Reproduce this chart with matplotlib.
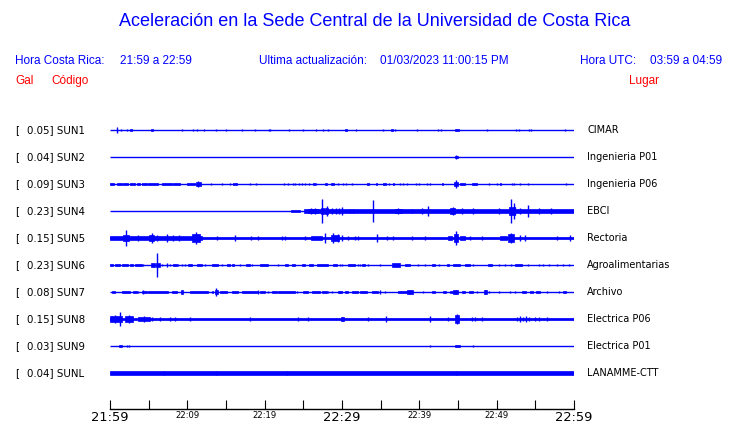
#  Aceleración en la Sede Central de la UCR - trazas de los acelerógrafos
#  Ventana de 60 minutos (21:59 a 22:59 hora de Costa Rica)

import matplotlib
matplotlib.use("Agg")
import matplotlib.pyplot as plt

# ---------------- datos ----------------
codigos = ["SUN1", "SUN2", "SUN3", "SUN4", "SUN5", "SUN6", "SUN7", "SUN8", "SUN9", "SUNL"]
escalas = ["0.05", "0.04", "0.09", "0.23", "0.15", "0.23", "0.08", "0.15", "0.03", "0.04"]
lugares = ["CIMAR", "Ingenieria P01", "Ingenieria P06", "EBCI", "Rectoria",
           "Agroalimentarias", "Archivo", "Electrica P06", "Electrica P01", "LANAMME-CTT"]

# minutos desde 21:59 y etiquetas del eje
minutos_ticks = [0, 5, 10, 15, 20, 25, 30, 35, 40, 45, 50, 55, 60]
etiquetas_ticks = ["21:59", "", "22:09", "", "22:19", "", "22:29", "", "22:39", "", "22:49", "", "22:59"]

# bloques: (inicio min, fin min, semiamplitud normalizada)
# picos:   (min, semiamplitud normalizada)
bloques_sun1 = [(2.55, 2.9, 0.045), (5.25, 5.55, 0.045), (30.4, 30.7, 0.05), (36.3, 36.6, 0.045),
                (44.6, 45.1, 0.045)]
picos_sun1 = [(0.95, 0.105), (1.38, 0.04), (2.24, 0.05), (9.27, 0.04), (10.78, 0.05), (11.2, 0.04),
              (12.2, 0.04), (13.67, 0.05), (14.96, 0.05), (17.1, 0.04), (18.8, 0.05), (20.5, 0.05),
              (20.7, 0.04), (23.2, 0.05), (24.9, 0.04), (26.6, 0.04), (27.5, 0.05), (28.2, 0.04),
              (31.78, 0.04), (35.36, 0.04), (36.87, 0.05), (39.67, 0.05), (42.39, 0.05), (42.78, 0.05),
              (48.73, 0.05), (52.48, 0.05), (52.91, 0.04), (54.12, 0.05), (54.46, 0.04), (58.86, 0.05)]

bloques_sun2 = [(44.6, 45.05, 0.04)]
picos_sun2 = [(44.8, 0.075)]

bloques_sun3 = [(0.0, 0.52, 0.045), (0.86, 1.51, 0.045), (1.72, 2.37, 0.045), (2.59, 3.23, 0.045),
                (3.45, 3.88, 0.045), (4.1, 4.74, 0.045), (4.96, 6.25, 0.045), (6.68, 7.98, 0.045),
                (8.19, 9.05, 0.045), (9.92, 10.99, 0.045), (11.08, 11.73, 0.06), (15.95, 16.38, 0.045),
                (26.2, 26.5, 0.045), (27.8, 28.0, 0.045), (28.6, 29.0, 0.045), (33.2, 33.55, 0.045),
                (34.41, 34.58, 0.045), (35.27, 35.71, 0.045), (36.57, 36.74, 0.045), (42.9, 43.12, 0.045),
                (44.42, 45.06, 0.07), (45.28, 45.93, 0.045), (46.79, 47.43, 0.045), (50.37, 50.58, 0.045)]
picos_sun3 = [(11.43, 0.1), (13.07, 0.04), (14.53, 0.04), (15.52, 0.04), (18.1, 0.04), (18.84, 0.05),
              (22.5, 0.05), (23.0, 0.04), (23.6, 0.05), (23.9, 0.04), (24.4, 0.05), (24.8, 0.04),
              (25.2, 0.05), (25.7, 0.04), (26.7, 0.05), (29.5, 0.04), (30.1, 0.05), (30.49, 0.05),
              (31.35, 0.04), (36.14, 0.04), (37.52, 0.04), (37.95, 0.04), (38.38, 0.05), (39.59, 0.04),
              (40.02, 0.04), (41.05, 0.04), (41.4, 0.05), (44.72, 0.15), (49.07, 0.04), (50.02, 0.05),
              (51.96, 0.05), (52.18, 0.04), (53.04, 0.05), (54.03, 0.05), (58.95, 0.04)]

bloques_sun4 = [(23.37, 24.58, 0.055), (25.1, 60.0, 0.06), (25.66, 26.95, 0.09), (27.3, 27.7, 0.12),
                (27.8, 28.2, 0.1), (36.87, 37.73, 0.09), (43.98, 44.63, 0.1), (51.6, 52.4, 0.13)]
picos_sun4 = [(26.0, 0.1), (26.5, 0.1), (27.47, 0.45), (28.03, 0.19), (28.7, 0.11), (29.2, 0.11),
              (29.6, 0.1), (29.97, 0.15), (31.05, 0.09), (31.48, 0.09), (34.07, 0.41), (37.3, 0.11),
              (39.03, 0.09), (40.32, 0.1), (41.18, 0.17), (44.3, 0.13), (45.49, 0.12), (47.0, 0.12),
              (50.24, 0.12), (51.83, 0.46), (52.18, 0.3), (52.39, 0.14), (53.04, 0.1), (53.99, 0.21),
              (55.41, 0.1), (57.0, 0.11)]

bloques_sun5 = [(0.0, 60.0, 0.055), (0.0, 11.9, 0.07), (10.6, 11.6, 0.15), (1.7, 2.5, 0.1),
                (5.1, 5.7, 0.1), (26.0, 27.4, 0.09), (28.6, 29.6, 0.12), (43.77, 44.2, 0.09),
                (44.5, 45.0, 0.14), (45.28, 45.93, 0.085), (50.45, 51.32, 0.09), (51.53, 52.18, 0.13)]
picos_sun5 = [(2.11, 0.29), (3.66, 0.12), (5.39, 0.2), (6.04, 0.1), (7.33, 0.15), (8.19, 0.12),
              (8.93, 0.1), (11.08, 0.21), (13.8, 0.09), (16.17, 0.1), (18.2, 0.08), (19.19, 0.08),
              (22.21, 0.09), (22.64, 0.09), (25.23, 0.08), (27.81, 0.17), (28.89, 0.17), (29.54, 0.15),
              (29.97, 0.1), (30.83, 0.09), (31.69, 0.08), (32.13, 0.08), (34.5, 0.16), (35.79, 0.09),
              (36.65, 0.09), (39.03, 0.08), (40.75, 0.09), (44.76, 0.27), (46.57, 0.09), (48.08, 0.08),
              (51.83, 0.19), (53.04, 0.1), (53.69, 0.12), (57.78, 0.08), (59.5, 0.1)]

bloques_sun6 = [(0.0, 0.43, 0.05), (0.65, 1.29, 0.05), (1.51, 2.37, 0.05), (2.59, 3.02, 0.05),
                (3.23, 4.1, 0.05), (5.3, 5.82, 0.06), (5.91, 6.47, 0.08), (8.19, 8.62, 0.05),
                (10.13, 10.65, 0.05), (11.21, 11.86, 0.05), (13.15, 14.02, 0.05), (15.09, 15.52, 0.05),
                (15.74, 16.08, 0.05), (17.55, 18.11, 0.05), (19.4, 20.48, 0.05), (22.64, 23.07, 0.05),
                (23.5, 23.93, 0.05), (24.8, 25.23, 0.05), (25.74, 26.3, 0.05), (26.73, 28.16, 0.05),
                (28.89, 29.32, 0.05), (30.83, 31.69, 0.05), (32.56, 32.99, 0.05), (36.44, 37.52, 0.06),
                (38.16, 38.81, 0.05), (41.61, 42.04, 0.05), (43.55, 43.9, 0.05), (44.41, 45.28, 0.05),
                (45.93, 46.57, 0.05), (48.94, 49.37, 0.05), (52.39, 53.25, 0.05)]
picos_sun6 = [(4.31, 0.05), (6.12, 0.45), (6.68, 0.05), (7.33, 0.06), (7.76, 0.05), (8.84, 0.05),
              (9.27, 0.05), (9.7, 0.05), (12.29, 0.05), (14.45, 0.05), (16.82, 0.05), (18.33, 0.05),
              (21.78, 0.05), (29.75, 0.05), (30.05, 0.05), (32.13, 0.05), (32.34, 0.05), (33.42, 0.05),
              (34.93, 0.05), (39.89, 0.05), (40.75, 0.05), (42.56, 0.05), (47.0, 0.05), (50.36, 0.05),
              (51.1, 0.05), (51.83, 0.05), (53.99, 0.05), (55.41, 0.04), (55.97, 0.05), (56.83, 0.05),
              (57.78, 0.05), (58.64, 0.04), (59.41, 0.05)]

bloques_sun7 = [(0.22, 0.65, 0.05), (1.51, 2.59, 0.05), (3.02, 3.45, 0.05), (4.1, 4.74, 0.05),
                (4.96, 7.55, 0.05), (7.98, 8.62, 0.05), (9.18, 9.48, 0.06), (10.35, 12.72, 0.05),
                (13.15, 13.37, 0.05), (13.58, 14.02, 0.09), (14.23, 15.09, 0.05), (15.74, 16.6, 0.05),
                (17.03, 18.97, 0.05), (19.4, 20.05, 0.05), (20.91, 21.56, 0.05), (21.78, 23.93, 0.05),
                (25.01, 25.66, 0.05), (26.09, 27.17, 0.05), (27.38, 28.03, 0.05), (29.54, 29.97, 0.05),
                (30.4, 30.83, 0.05), (31.26, 32.13, 0.05), (32.34, 33.2, 0.05), (33.85, 34.71, 0.05),
                (37.3, 38.38, 0.05), (38.38, 39.24, 0.065), (41.61, 42.04, 0.05), (43.12, 43.46, 0.05),
                (43.98, 44.41, 0.05), (44.41, 45.06, 0.065), (45.5, 45.93, 0.05), (46.36, 47.0, 0.05),
                (48.3, 48.73, 0.06), (53.25, 53.77, 0.05), (54.33, 54.76, 0.05), (55.11, 55.62, 0.05),
                (58.64, 58.99, 0.05)]
picos_sun7 = [(3.66, 0.05), (4.31, 0.08), (13.71, 0.16), (19.19, 0.09), (20.48, 0.05), (24.15, 0.05),
              (28.25, 0.05), (28.68, 0.05), (29.75, 0.05), (34.93, 0.07), (35.57, 0.05), (38.8, 0.07),
              (40.53, 0.05), (44.76, 0.09), (47.43, 0.05), (48.51, 0.08), (49.07, 0.05), (50.24, 0.05),
              (51.75, 0.05), (52.39, 0.05), (56.49, 0.05), (58.0, 0.05)]

bloques_sun8 = [(0.0, 60.0, 0.05), (0.0, 1.51, 0.11), (1.94, 3.02, 0.11), (3.66, 5.17, 0.09),
                (29.88, 30.31, 0.08), (44.63, 45.15, 0.13)]
picos_sun8 = [(0.6, 0.13), (1.29, 0.26), (2.46, 0.16), (4.4, 0.1), (5.39, 0.07), (6.47, 0.07),
              (7.76, 0.07), (8.41, 0.07), (10.35, 0.08), (18.11, 0.07), (24.28, 0.07), (25.66, 0.07),
              (30.0, 0.09), (33.42, 0.07), (35.66, 0.1), (41.4, 0.12), (43.77, 0.07), (44.89, 0.17),
              (46.79, 0.08), (47.22, 0.08), (48.08, 0.09), (52.61, 0.09), (53.0, 0.1), (53.4, 0.09),
              (53.8, 0.1), (54.2, 0.09), (54.9, 0.08), (55.41, 0.09), (56.49, 0.07), (59.94, 0.08)]

bloques_sun9 = [(1.16, 1.51, 0.04), (44.63, 45.2, 0.04)]
picos_sun9 = [(2.16, 0.03), (2.5, 0.04), (41.4, 0.05), (47.0, 0.04)]

bloques_sunl = [(0.0, 60.0, 0.058)]
picos_sunl = [(7.03, 0.09), (13.71, 0.09), (22.94, 0.09), (44.76, 0.09)]

bloques = [bloques_sun1, bloques_sun2, bloques_sun3, bloques_sun4, bloques_sun5,
           bloques_sun6, bloques_sun7, bloques_sun8, bloques_sun9, bloques_sunl]
picos = [picos_sun1, picos_sun2, picos_sun3, picos_sun4, picos_sun5,
         picos_sun6, picos_sun7, picos_sun8, picos_sun9, picos_sunl]

# ---------------- figura ----------------
AZUL = "#0000ff"
ROJO = "#ff0000"
W, H = 740, 423
fuente_titulo = ["Liberation Sans", "DejaVu Sans"]

fig = plt.figure(figsize=(W / 100, H / 100), dpi=100)
fig.patch.set_facecolor("white")

def fx(x):
    return x / W

def fy(y):
    return 1 - y / H

# eje: x de 110 a 574 px, filas cada 27 px desde y=130
ax = fig.add_axes([fx(110), fy(409), 464 / W, (409 - 103) / H])
ax.set_xlim(0, 60)
ax.set_ylim(10.333, -1)

for i in range(len(codigos)):
    ax.plot([0, 60], [i, i], color=AZUL, lw=1.0, solid_capstyle="butt")
    for t0, t1, a in bloques[i]:
        ax.bar(t0, 2 * a, width=t1 - t0, bottom=i - a, align="edge",
               color=AZUL, edgecolor=AZUL, linewidth=0.5)
    for t, a in picos[i]:
        ax.vlines(t, i - a, i + a, color=AZUL, lw=1.0)

for lado in ["top", "left", "right"]:
    ax.spines[lado].set_visible(False)
ax.spines["bottom"].set_linewidth(1.0)
ax.set_yticks([])
ax.set_xticks(minutos_ticks)
ax.set_xticklabels(etiquetas_ticks)
ax.tick_params(axis="x", direction="in", length=6.5, width=0.8, pad=1.5, colors="black")
for lab in ax.get_xticklabels():
    txt = lab.get_text()
    lab.set_fontsize(9.4 if txt in ("21:59", "22:29", "22:59") else 6.1)
    lab.set_family("DejaVu Sans")

# etiquetas de las trazas
for i in range(len(codigos)):
    y = 130 + 27 * i
    fig.text(fx(15), fy(y), "[", fontsize=7.4, va="center", ha="left", family="DejaVu Sans")
    fig.text(fx(27), fy(y), escalas[i] + "] " + codigos[i], fontsize=7.4, va="center",
             ha="left", family="DejaVu Sans")
    fig.text(fx(587), fy(y), lugares[i], fontsize=7.0, va="center", ha="left", family="DejaVu Sans")

# encabezados
fig.text(fx(375), fy(22), "Aceleración en la Sede Central de la Universidad de Costa Rica",
         fontsize=13, color=AZUL, ha="center", va="center", family=fuente_titulo)

encabezado = [("Hora Costa Rica:", 15), ("21:59 a 22:59", 120), ("Ultima actualización:", 259),
              ("01/03/2023 11:00:15 PM", 380), ("Hora UTC:", 580), ("03:59 a 04:59", 650)]
for txt, x in encabezado:
    fig.text(fx(x), fy(61), txt, fontsize=8.5, color=AZUL, ha="left", va="center", family=fuente_titulo)

for txt, x in [("Gal", 15), ("Código", 51), ("Lugar", 629)]:
    fig.text(fx(x), fy(81), txt, fontsize=8.5, color=ROJO, ha="left", va="center", family=fuente_titulo)

fig.savefig("out.png", dpi=100)
